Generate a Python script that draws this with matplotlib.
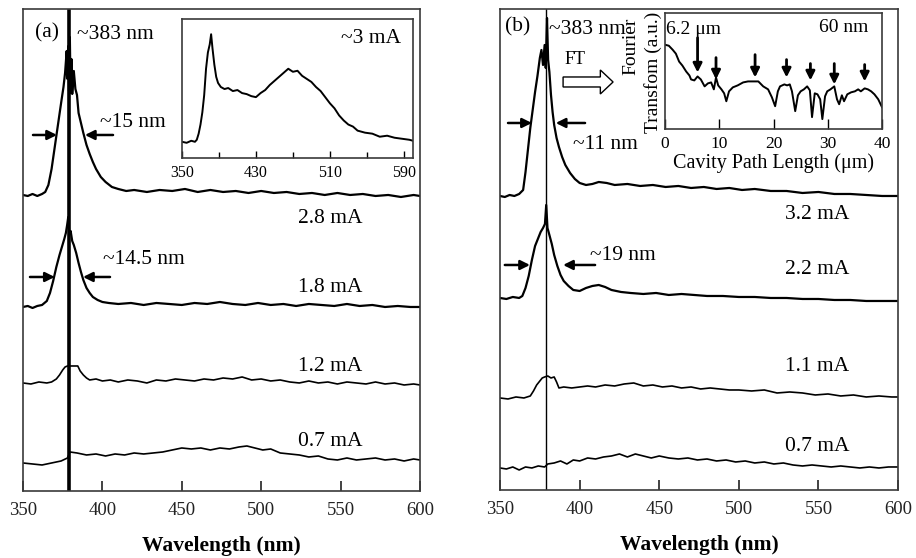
import numpy as np
import matplotlib.pyplot as plt
from matplotlib.patches import FancyArrow

plt.rcParams['font.family'] = ['Liberation Serif', 'DejaVu Serif']

# ---- panel (a) spectra, intensity in arbitrary units (offset per current)
a28_wl = [350, 353, 356, 359, 362, 364, 366, 368, 370, 372,
          374, 375.5, 376.5, 377.5, 378, 378.5, 379, 379.5, 380, 380.5,
          381, 382, 383, 384, 385, 386.5, 388, 390, 392, 394,
          396, 399, 402, 406, 410, 415, 420, 428, 436, 444,
          452, 460, 468, 476, 484, 492, 500, 508, 516, 524,
          532, 540, 548, 556, 564, 572, 580, 588, 596, 600]
a28_int = [296, 295, 297, 295, 297, 299, 306, 322, 344, 366,
           388, 404, 418, 440, 412, 445, 400, 454, 398, 432,
           397, 420, 402, 396, 378, 368, 358, 346, 337, 329,
           322, 314, 309, 304, 302, 300, 301, 299, 301, 300,
           302, 299, 301, 299, 300, 298, 300, 298, 299, 297,
           298, 296, 298, 296, 297, 295, 296, 294, 296, 295]

a18_wl = [350, 353, 356, 359, 362, 365, 367, 369, 371, 373,
          374.5, 376, 377, 377.8, 378.5, 379.2, 380, 381, 382, 383.5,
          385, 386.5, 388, 390, 392, 394, 397, 400, 404, 410,
          418, 426, 434, 442, 450, 458, 466, 474, 482, 490,
          498, 506, 514, 522, 530, 538, 546, 554, 562, 570,
          578, 586, 594, 600]
a18_int = [184, 185, 183, 185, 186, 190, 198, 210, 224, 236,
           244, 252, 258, 266, 274, 257, 260, 250, 246, 238,
           228, 219, 211, 203, 198, 194, 191, 189, 188, 187,
           188, 186, 188, 187, 186, 188, 187, 189, 187, 186,
           188, 186, 187, 185, 187, 186, 185, 187, 185, 186,
           184, 185, 184, 184]

a12_wl = [350, 355, 360, 365, 368, 371, 373, 375, 376.5, 378,
          381, 384.5, 386, 388, 390, 392, 396, 400, 405, 410,
          416, 422, 428, 434, 440, 446, 452, 458, 464, 470,
          476, 482, 488, 494, 500, 506, 512, 518, 524, 530,
          536, 542, 548, 554, 560, 566, 572, 578, 584, 590,
          596, 600]
a12_int = [108, 107, 109, 108, 109, 112, 116, 121, 124, 125,
           125, 125, 120, 116, 113, 111, 112, 110, 111, 109,
           111, 110, 108, 111, 110, 112, 111, 110, 112, 111,
           113, 112, 114, 111, 112, 110, 111, 109, 108, 110,
           108, 109, 107, 109, 108, 107, 109, 107, 108, 106,
           107, 106]

a07_wl = [350, 356, 362, 368, 374, 378, 379.6, 384, 390, 396,
          402, 408, 414, 420, 426, 432, 438, 444, 450, 456,
          462, 468, 474, 480, 486, 491, 496, 501, 506, 512,
          518, 524, 530, 536, 542, 548, 554, 560, 566, 572,
          578, 584, 590, 596, 600]
a07_int = [28, 27, 26, 28, 30, 33, 39, 38, 36, 37,
           35, 37, 36, 38, 37, 38, 39, 41, 43, 42,
           43, 41, 43, 42, 44, 45, 43, 41, 42, 38,
           37, 36, 34, 35, 32, 31, 33, 31, 32, 33,
           31, 32, 30, 32, 31]

# ---- panel (b) spectra
b32_wl = [350, 353, 356, 359, 362, 364.5, 366, 367.5, 369, 370.5,
          372, 373.5, 375, 376, 377, 378, 378.7, 379.5, 380.2, 381,
          382, 383, 384, 385.5, 387, 389, 391, 394, 397, 400,
          404, 408, 412, 417, 422, 430, 438, 446, 454, 462,
          470, 478, 486, 494, 502, 510, 520, 530, 540, 550,
          560, 570, 580, 590, 600]
b32_int = [294, 293, 295, 294, 296, 300, 318, 340, 362, 380,
           398, 414, 432, 440, 425, 445, 422, 472, 430, 418,
           395, 378, 365, 352, 343, 333, 325, 317, 311, 307,
           305, 306, 308, 307, 305, 306, 304, 305, 303, 304,
           302, 303, 301, 302, 300, 301, 299, 299, 297, 298,
           296, 296, 295, 294, 294]

b22_wl = [350, 354, 358, 362, 364, 366, 368, 370, 372, 374,
          375.5, 377, 378.2, 379, 379.8, 381, 382.5, 384, 386, 388,
          390, 393, 396, 400, 404, 408, 412, 416, 420, 426,
          432, 440, 448, 456, 464, 472, 480, 490, 500, 510,
          520, 530, 540, 550, 560, 570, 580, 590, 600]
b22_int = [192, 191, 193, 192, 194, 202, 214, 230, 244, 252,
           258, 262, 266, 285, 262, 255, 246, 235, 224, 215,
           209, 204, 200, 199, 202, 204, 205, 203, 200, 198,
           197, 196, 197, 195, 196, 195, 194, 194, 193, 193,
           192, 192, 191, 191, 190, 190, 189, 189, 189]

b11_wl = [350, 355, 360, 365, 369, 371, 373, 375, 376.5, 378,
          380, 382, 384, 385.5, 387, 390, 395, 400, 405, 410,
          416, 422, 428, 434, 440, 446, 452, 458, 464, 470,
          476, 482, 488, 494, 500, 508, 516, 524, 532, 540,
          548, 556, 564, 572, 580, 588, 596, 600]
b11_int = [92, 91, 93, 92, 94, 99, 105, 109, 112, 113,
           114, 112, 113, 108, 102, 103, 102, 103, 104, 103,
           105, 104, 106, 107, 104, 105, 103, 104, 102, 103,
           101, 102, 101, 100, 100, 99, 100, 97, 98, 97,
           95, 96, 94, 95, 93, 94, 93, 93]

b07_wl = [350, 354, 358, 362, 366, 370, 374, 378, 380, 384,
          388, 392, 396, 400, 405, 410, 415, 420, 425, 430,
          435, 440, 445, 450, 456, 462, 468, 474, 480, 486,
          492, 498, 504, 510, 516, 522, 528, 534, 540, 546,
          552, 558, 564, 570, 576, 582, 588, 594, 600]
b07_int = [22, 21, 23, 20, 23, 22, 24, 23, 26, 27,
           29, 26, 30, 29, 32, 31, 33, 34, 36, 33,
           36, 34, 32, 34, 32, 31, 32, 30, 31, 29,
           30, 28, 29, 27, 28, 26, 27, 25, 24, 25,
           24, 23, 24, 23, 22, 23, 22, 23, 23]

# ---- inset (a): ~3 mA spectrum
ia_wl = [350, 355, 360, 364, 366, 368, 370, 372, 374, 376,
         378, 380, 381.5, 383, 385, 387, 389, 392, 396, 400,
         405, 410, 415, 420, 425, 430, 435, 440, 445, 450,
         455, 460, 465, 470, 475, 480, 485, 490, 495, 500,
         505, 510, 515, 520, 525, 530, 535, 540, 548, 556,
         564, 572, 580, 588, 596, 600]
ia_int = [16, 15, 17, 16, 18, 24, 33, 45, 62, 88,
          104, 112, 122, 108, 92, 80, 74, 70, 68, 69,
          66, 67, 64, 63, 61, 60, 64, 67, 72, 76,
          80, 84, 88, 85, 86, 81, 78, 75, 70, 66,
          60, 54, 49, 42, 37, 33, 31, 27, 25, 24,
          21, 22, 20, 19, 18, 17]

# ---- inset (b): Fourier transform vs cavity path length
ib_len = [0, 0.7, 1.4, 2.0, 2.6, 3.2, 3.9, 4.5, 4.8, 5.4,
          6.0, 6.6, 7.3, 7.9, 8.5, 9.0, 9.4, 9.8, 10.4, 10.9,
          11.3, 11.8, 12.5, 13.4, 14.4, 15.3, 16.3, 17.2, 18.1, 19.0,
          19.7, 20.3, 20.8, 21.2, 22.0, 22.5, 23.0, 23.4, 24.0, 24.5,
          25.0, 25.6, 26.2, 26.7, 27.1, 27.6, 28.1, 28.6, 29.0, 29.5,
          29.9, 30.5, 31.2, 31.7, 32.1, 32.6, 33.0, 33.6, 34.3, 35.0,
          35.6, 36.1, 36.8, 37.4, 38.0, 38.6, 39.3, 40.0]
ib_ft = [85, 84, 80, 76, 68, 64, 58, 54, 50, 49,
         53, 50, 43, 46, 47, 40, 52, 44, 40, 36,
         28, 38, 42, 44, 47, 48, 48, 48, 43, 40,
         32, 23, 38, 43, 45, 44, 45, 38, 18, 34,
         38, 40, 43, 39, 12, 36, 35, 30, 10, 33,
         38, 40, 43, 30, 25, 34, 28, 35, 37, 38,
         40, 38, 41, 40, 38, 35, 30, 22]
ib_arrow_len = [6.0, 9.4, 16.6, 22.4, 26.8, 31.2, 36.8]
ib_arrow_top = [92, 72, 75, 70, 66, 66, 65]
ib_arrow_tip = [57, 50, 52, 52, 49, 45, 48]

peak_wl = 379
spine_col = '#3a3a3a'

fig = plt.figure(figsize=(9.16, 5.58), dpi=100)
ax_a = fig.add_axes([0.0251, 0.1201, 0.4334, 0.8638])
ax_b = fig.add_axes([0.5459, 0.1219, 0.4345, 0.8620])


def style_main(ax, ymax):
    ax.set_xlim(350, 600)
    ax.set_ylim(0, ymax)
    ax.set_yticks([])
    ax.set_xticks([350, 400, 450, 500, 550, 600])
    ax.tick_params(axis='x', direction='in', length=7, width=1.2,
                   labelsize=13.5, pad=8, colors='#222222')
    for s in ax.spines.values():
        s.set_color(spine_col)
        s.set_linewidth(1.2)
    ax.set_xlabel('Wavelength (nm)', fontsize=15.5, fontweight='bold',
                  labelpad=12)


style_main(ax_a, 482)
style_main(ax_b, 481)

arr = dict(arrowstyle='-|>', color='k', lw=1.8, mutation_scale=14,
           shrinkA=0, shrinkB=0)
txt = dict(fontsize=15.5, va='center')

# panel (a)
for wl, it, lw in [(a28_wl, a28_int, 1.6), (a18_wl, a18_int, 1.6),
                   (a12_wl, a12_int, 1.2), (a07_wl, a07_int, 1.2)]:
    ax_a.plot(wl, it, color='k', lw=lw)
ax_a.axvline(peak_wl, color='k', lw=2.6)
ax_a.text(357.5, 458, '(a)', **txt)
ax_a.text(384, 456, '~383 nm', **txt)
ax_a.annotate('', xy=(371.4, 356), xytext=(356.3, 356), arrowprops=arr)
ax_a.annotate('', xy=(389, 356), xytext=(406.7, 356), arrowprops=arr)
ax_a.text(398.5, 368, '~15 nm', **txt)
ax_a.annotate('', xy=(370, 214), xytext=(354.4, 214), arrowprops=arr)
ax_a.annotate('', xy=(387.8, 214), xytext=(404.8, 214), arrowprops=arr)
ax_a.text(400.4, 231, '~14.5 nm', **txt)
for lab, y in [('2.8 mA', 272), ('1.8 mA', 203), ('1.2 mA', 124), ('0.7 mA', 49)]:
    ax_a.text(523, y, lab, **txt)

# panel (b)
for wl, it, lw in [(b32_wl, b32_int, 1.6), (b22_wl, b22_int, 1.6),
                   (b11_wl, b11_int, 1.2), (b07_wl, b07_int, 1.2)]:
    ax_b.plot(wl, it, color='k', lw=lw)
ax_b.axvline(peak_wl, color='k', lw=1.0)
ax_b.text(353, 463, '(b)', **txt)
ax_b.text(380.5, 460, '~383 nm', **txt)
ax_b.text(397, 430, 'FT', fontsize=13, ha='center', va='center')
ax_b.add_patch(FancyArrow(389.6, 408, 31.4, 0, width=10, head_width=24,
                          head_length=8, length_includes_head=True,
                          fc='white', ec='k', lw=1.0))
ax_b.annotate('', xy=(370, 367), xytext=(355, 367), arrowprops=arr)
ax_b.annotate('', xy=(385, 367), xytext=(403.4, 367), arrowprops=arr)
ax_b.text(395.8, 345, '~11 nm', **txt)
ax_b.annotate('', xy=(368.8, 225), xytext=(353, 225), arrowprops=arr)
ax_b.annotate('', xy=(389.6, 225), xytext=(409.7, 225), arrowprops=arr)
ax_b.text(406.5, 234, '~19 nm', **txt)
for lab, y in [('3.2 mA', 275), ('2.2 mA', 220), ('1.1 mA', 123), ('0.7 mA', 43)]:
    ax_b.text(529, y, lab, **txt)

# inset (a)
ins_a = fig.add_axes([0.1987, 0.7168, 0.2522, 0.2491])
ins_a.plot(ia_wl, ia_int, color='k', lw=1.4)
ins_a.set_xlim(350, 600)
ins_a.set_ylim(0, 137)
ins_a.set_yticks([])
ins_a.set_xticks([350, 430, 510, 590])
ins_a.set_xticks([390, 470, 550], minor=True)
ins_a.tick_params(axis='x', which='both', direction='in', labelsize=11.5,
                  pad=5, width=1.0)
ins_a.tick_params(axis='x', which='major', length=5)
ins_a.tick_params(axis='x', which='minor', length=4)
ins_a.text(0.95, 0.86, '~3 mA', transform=ins_a.transAxes, fontsize=15.5,
           ha='right', va='center')
for s in ins_a.spines.values():
    s.set_color(spine_col)
    s.set_linewidth(1.2)

# inset (b)
ins_b = fig.add_axes([0.7260, 0.7688, 0.2369, 0.2079])
ins_b.plot(ib_len, ib_ft, color='k', lw=1.4)
ins_b.set_xlim(0, 40)
ins_b.set_ylim(0, 117)
ins_b.set_yticks([])
ins_b.set_xticks([0, 10, 20, 30, 40])
ins_b.tick_params(axis='x', direction='in', length=7, width=1.0,
                  labelsize=12.5, pad=5)
ins_b.set_xlabel('Cavity Path Length (\u03bcm)', fontsize=14.5, labelpad=1)
ins_b.text(-0.155, 0.71, 'Fourier', transform=ins_b.transAxes, rotation=90,
           fontsize=14, ha='center', va='center')
ins_b.text(-0.055, 0.49, 'Transfom (a.u.)', transform=ins_b.transAxes,
           rotation=90, fontsize=14, ha='center', va='center')
for L, top, tip in zip(ib_arrow_len, ib_arrow_top, ib_arrow_tip):
    ins_b.annotate('', xy=(L, tip), xytext=(L, top),
                   arrowprops=dict(arrowstyle='-|>', color='k', lw=2.0,
                                   mutation_scale=13, shrinkA=0, shrinkB=0))
ins_b.text(0.1, 100, '6.2 \u03bcm', fontsize=14, ha='left', va='center')
ins_b.text(33, 102, '60 nm', fontsize=14, ha='center', va='center')
for s in ins_b.spines.values():
    s.set_color(spine_col)
    s.set_linewidth(1.2)

fig.savefig('out.png', dpi=100)
